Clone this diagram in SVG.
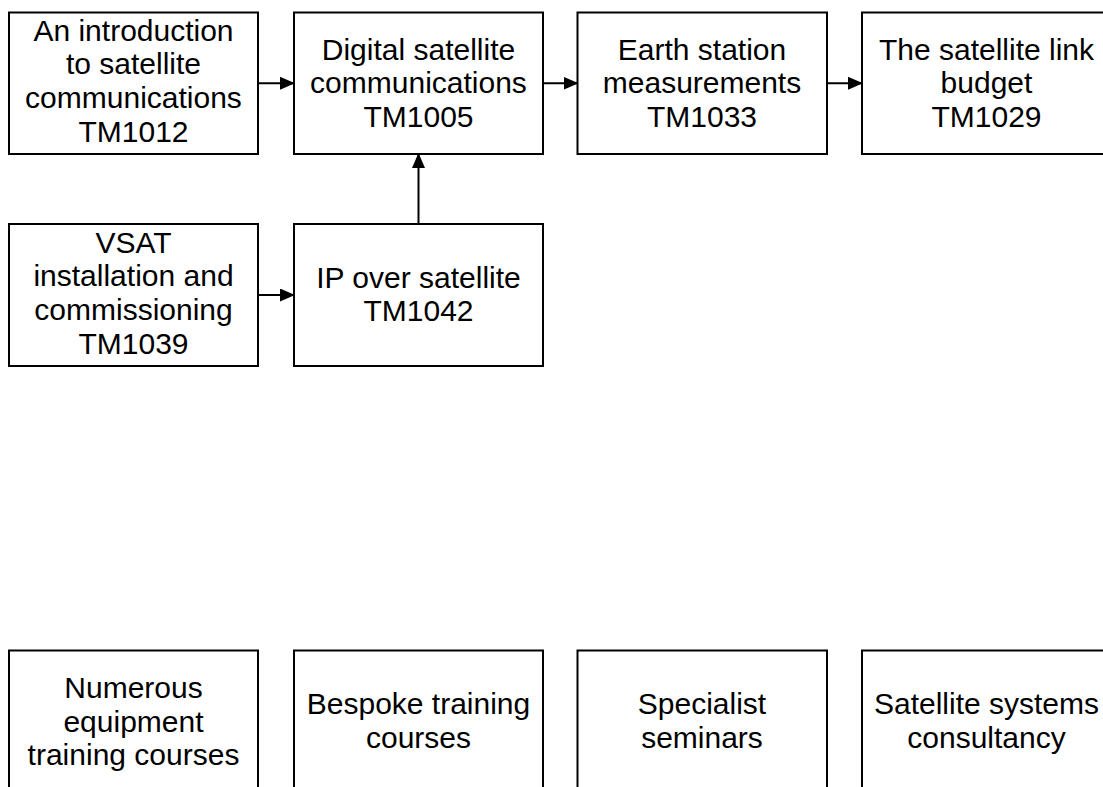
<svg xmlns="http://www.w3.org/2000/svg" width="1103" height="787" viewBox="0 0 1103 787">
<style>
.box{fill:#ffffff;stroke:#000000;stroke-width:2}
.lbl{font-family:"Liberation Sans",Arial,Helvetica,sans-serif;font-size:30px;fill:#000000;text-anchor:middle}
.edge{fill:none;stroke:#000000;stroke-width:2}
</style>
<defs>
<marker id="arr" viewBox="0 0 15 13" refX="14" refY="6.5" markerWidth="15" markerHeight="13" markerUnits="userSpaceOnUse" orient="auto">
<path d="M0,0 L15,6.5 L0,13 Z" fill="#000000"/>
</marker>
</defs>
<rect width="1103" height="787" fill="#ffffff"/>
<g id="n-tm1012">
<rect class="box" x="9" y="12.5" width="249" height="141.5"/>
<text class="lbl" x="133.5" y="40.5">An introduction</text>
<text class="lbl" x="133.5" y="74.2">to satellite</text>
<text class="lbl" x="133.5" y="107.9">communications</text>
<text class="lbl" x="133.5" y="141.6">TM1012</text>
</g>
<g id="n-tm1005">
<rect class="box" x="294" y="12.5" width="249" height="141.5"/>
<text class="lbl" x="418.5" y="59.5">Digital satellite</text>
<text class="lbl" x="418.5" y="93.2">communications</text>
<text class="lbl" x="418.5" y="126.9">TM1005</text>
</g>
<g id="n-tm1033">
<rect class="box" x="577.5" y="12.5" width="249.5" height="141.5"/>
<text class="lbl" x="702" y="59.5">Earth station</text>
<text class="lbl" x="702" y="93.2">measurements</text>
<text class="lbl" x="702" y="126.9">TM1033</text>
</g>
<g id="n-tm1029">
<rect class="box" x="862" y="12.5" width="249" height="141.5"/>
<text class="lbl" x="986.5" y="59.5">The satellite link</text>
<text class="lbl" x="986.5" y="93.2">budget</text>
<text class="lbl" x="986.5" y="126.9">TM1029</text>
</g>
<g id="n-tm1039">
<rect class="box" x="9" y="224" width="249" height="142"/>
<text class="lbl" x="133.5" y="252.5">VSAT</text>
<text class="lbl" x="133.5" y="286.2">installation and</text>
<text class="lbl" x="133.5" y="319.9">commissioning</text>
<text class="lbl" x="133.5" y="353.6">TM1039</text>
</g>
<g id="n-tm1042">
<rect class="box" x="294" y="224" width="249" height="142"/>
<text class="lbl" x="418.5" y="287.7">IP over satellite</text>
<text class="lbl" x="418.5" y="321.4">TM1042</text>
</g>
<g id="n-equipment">
<rect class="box" x="9" y="650.5" width="249" height="141.5"/>
<text class="lbl" x="133.5" y="697.8">Numerous</text>
<text class="lbl" x="133.5" y="731.5">equipment</text>
<text class="lbl" x="133.5" y="765.2">training courses</text>
</g>
<g id="n-bespoke">
<rect class="box" x="294" y="650.5" width="249" height="141.5"/>
<text class="lbl" x="418.5" y="714.4">Bespoke training</text>
<text class="lbl" x="418.5" y="748.1">courses</text>
</g>
<g id="n-seminars">
<rect class="box" x="577.5" y="650.5" width="249.5" height="141.5"/>
<text class="lbl" x="702" y="714.4">Specialist</text>
<text class="lbl" x="702" y="748.1">seminars</text>
</g>
<g id="n-consultancy">
<rect class="box" x="862" y="650.5" width="249" height="141.5"/>
<text class="lbl" x="986.5" y="714.4">Satellite systems</text>
<text class="lbl" x="986.5" y="748.1">consultancy</text>
</g>
<g id="connectors">
<line class="edge" x1="258" y1="83.25" x2="294" y2="83.25" marker-end="url(#arr)"/>
<line class="edge" x1="543" y1="83.25" x2="577.5" y2="83.25" marker-end="url(#arr)"/>
<line class="edge" x1="827" y1="83.25" x2="862" y2="83.25" marker-end="url(#arr)"/>
<line class="edge" x1="418.5" y1="224" x2="418.5" y2="154" marker-end="url(#arr)"/>
<line class="edge" x1="258" y1="295" x2="294" y2="295" marker-end="url(#arr)"/>
</g>
</svg>
